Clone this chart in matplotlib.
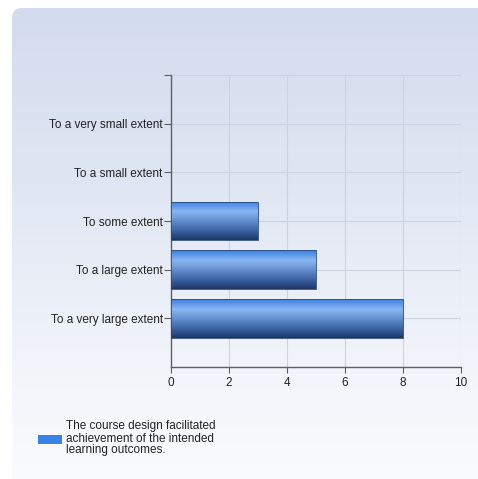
import numpy as np
import matplotlib
matplotlib.use("Agg")
import matplotlib.pyplot as plt
from matplotlib.patches import FancyBboxPatch, Rectangle
from matplotlib.colors import LinearSegmentedColormap

categories = ["To a very small extent", "To a small extent", "To some extent",
              "To a large extent", "To a very large extent"]
values = [0, 0, 3, 5, 8]
xticks = [0, 2, 4, 6, 8, 10]
legend_label = "The course design facilitated\nachievement of the intended\nlearning outcomes."

W, H = 478, 479
fig = plt.figure(figsize=(W / 100, H / 100), dpi=100)
fig.patch.set_facecolor("white")

# background panel with vertical gradient
bg = fig.add_axes([0, 0, 1, 1], zorder=0)
bg.set_xlim(0, W)
bg.set_ylim(H, 0)
bg.axis("off")
panel_cmap = LinearSegmentedColormap.from_list(
    "panel", [(0, "#d3dcee"), (0.35, "#dfe6f3"), (0.8, "#f4f6fb"), (1, "#fafbfd")])
grad = np.linspace(0, 1, 256).reshape(-1, 1)
im = bg.imshow(grad, extent=[12, W + 10, H + 5, 8], cmap=panel_cmap, aspect="auto", zorder=0)
clip = FancyBboxPatch((12, 8), W, H, boxstyle="round,pad=0,rounding_size=10",
                      transform=bg.transData, facecolor="none", edgecolor="none")
bg.add_patch(clip)
im.set_clip_path(clip)

# main axes: x 171..461, y 75..367
ax = fig.add_axes([171 / W, 1 - 367 / H, (461 - 171) / W, (367 - 75) / H], zorder=1)
ax.patch.set_alpha(0)
pos = np.arange(1, len(categories) + 1)
bars = ax.barh(pos, values, height=0.8, color="#4a86d8", zorder=3)
ax.set_xlim(0, 10)
ax.set_ylim(6, 0)
ax.set_xticks(xticks)
ax.set_xticklabels([str(t) for t in xticks])
ax.set_yticks(pos)
ax.set_yticklabels(categories)
ax.set_yticks([0], minor=True)
ax.grid(True, color="#ccd2de", linewidth=0.8, zorder=0)
ax.axhline(0, color="#ccd2de", linewidth=0.8, zorder=0)
for s in ["top", "right"]:
    ax.spines[s].set_visible(False)
for s in ["left", "bottom"]:
    ax.spines[s].set_color("#5a5f68")
    ax.spines[s].set_linewidth(1.0)
ax.tick_params(axis="both", which="both", colors="#5a5f68", length=5, width=0.8,
               labelcolor="#222222", labelsize=8.5)
ax.tick_params(axis="y", pad=1)
ax.tick_params(axis="x", length=4, pad=3)
for lab in ax.get_xticklabels() + ax.get_yticklabels():
    lab.set_fontfamily("Liberation Sans")

bar_cmap = LinearSegmentedColormap.from_list(
    "bar", [(0, "#3f7fdc"), (0.12, "#5a98ea"), (0.26, "#8ab6f2"), (0.42, "#719ddb"),
            (0.75, "#3c64a4"), (1, "#1d3766")])
for b in bars:
    if b.get_width() <= 0:
        continue
    x0, y0, w, h = b.get_x(), b.get_y(), b.get_width(), b.get_height()
    gi = ax.imshow(grad, extent=[x0, x0 + w, y0 + h, y0], cmap=bar_cmap,
                   aspect="auto", zorder=4)
    gi.set_clip_path(b)
    ax.add_patch(Rectangle((x0, y0), w, h, facecolor="none", edgecolor="#2a4a80",
                           linewidth=0.6, zorder=5))
ax.set_xlim(0, 10)
ax.set_ylim(6, 0)

# legend
bg.add_patch(Rectangle((38, 435), 24, 9, facecolor="#3b82e6", edgecolor="none", zorder=2))
bg.text(66, 438.5, legend_label, fontsize=8.5, family="Liberation Sans", color="#222222",
        va="center", ha="left", linespacing=1.0, zorder=2)

fig.savefig("out.png", dpi=100, facecolor="white")
